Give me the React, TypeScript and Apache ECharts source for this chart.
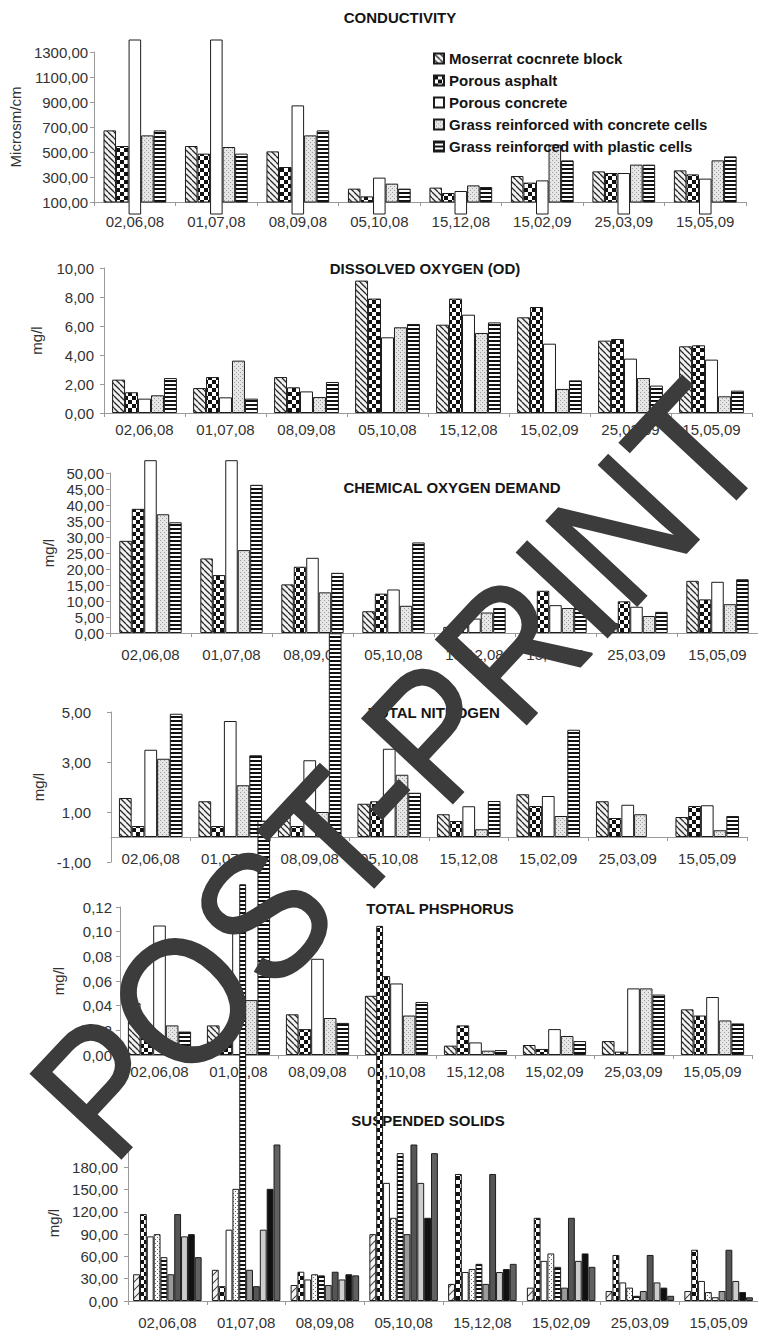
import React, { useEffect, useRef } from 'react';
import * as echarts from 'echarts';

const categories = ['02,06,08', '01,07,08', '08,09,08', '05,10,08', '15,12,08', '15,02,09', '25,03,09', '15,05,09'];
const legendNames = [
  'Moserrat cocnrete block',
  'Porous asphalt',
  'Porous concrete',
  'Grass reinforced with concrete cells',
  'Grass reinforced with plastic cells',
];
const panelTitles = ['CONDUCTIVITY', 'DISSOLVED OXYGEN (OD)', 'CHEMICAL OXYGEN DEMAND', 'TOTAL NITROGEN', 'TOTAL PHSPHORUS', 'SUSPENDED SOLIDS'];
const axisNames = ['Microsm/cm', 'mg/l', 'mg/l', 'mg/l', 'mg/l', 'mg/l'];
const watermarkText = 'POST-PRINT';

// Conductivity (Microsm/cm)
const condMoserrat = [673, 548, 505, 207, 215, 308, 345, 353];
const condAsphalt = [548, 487, 380, 145, 172, 255, 332, 321];
const condPorous = [1400, 1400, 873, 295, 188, 273, 332, 287];
const condGrassConcrete = [633, 540, 633, 247, 233, 559, 399, 433];
const condGrassPlastic = [673, 487, 673, 207, 220, 433, 399, 465];

// Dissolved oxygen (mg/l)
const doMoserrat = [2.3, 1.72, 2.48, 9.13, 6.09, 6.6, 4.99, 4.6];
const doAsphalt = [1.43, 2.48, 1.77, 7.89, 7.89, 7.31, 5.1, 4.67];
const doPorous = [0.99, 1.08, 1.49, 5.22, 6.78, 4.78, 3.75, 3.68];
const doGrassConcrete = [1.22, 3.61, 1.1, 5.91, 5.52, 1.66, 2.41, 1.15];
const doGrassPlastic = [2.41, 0.99, 2.14, 6.14, 6.25, 2.25, 1.89, 1.54];

// Chemical oxygen demand (mg/l)
const codMoserrat = [28.8, 23.3, 15.2, 6.8, 1.9, 4.0, 3.1, 16.3];
const codAsphalt = [38.8, 18.1, 20.7, 12.3, 4.0, 13.2, 9.9, 10.5];
const codPorous = [54, 54, 23.5, 13.6, 4.5, 8.7, 8.2, 16.0];
const codGrassConcrete = [37.1, 25.9, 12.7, 8.5, 6.4, 7.8, 5.3, 9.0];
const codGrassPlastic = [34.6, 46.3, 18.8, 28.3, 7.8, 8.7, 6.6, 16.8];

// Total nitrogen (mg/l)
const tnMoserrat = [1.56, 1.43, 0.87, 1.33, 0.91, 1.71, 1.43, 0.8];
const tnAsphalt = [0.44, 0.44, 0.44, 1.43, 0.64, 1.24, 0.76, 1.24];
const tnPorous = [3.49, 4.64, 3.07, 3.53, 1.23, 1.64, 1.29, 1.27];
const tnGrassConcrete = [3.13, 2.07, 1.0, 2.49, 0.31, 0.84, 0.91, 0.27];
const tnGrassPlastic = [4.93, 3.27, 8.15, 1.77, 1.44, 4.29, null, 0.84];

// Total phosphorus (mg/l)
const tpMoserrat = [0.042, 0.024, 0.033, 0.048, 0.0076, 0.0081, 0.0113, 0.037];
const tpAsphalt = [0.021, 0.014, 0.021, 0.064, 0.024, 0.0049, 0.0027, 0.032];
const tpPorous = [0.105, 0.099, 0.078, 0.058, 0.0102, 0.021, 0.054, 0.047];
const tpGrassConcrete = [0.024, 0.0445, 0.03, 0.032, 0.0035, 0.0154, 0.054, 0.028];
const tpGrassPlastic = [0.019, 0.19, 0.026, 0.043, 0.004, 0.0113, 0.049, 0.0256];

// Suspended solids (mg/l)
const ssMoserrat = [36, 42, 21.5, 90, 23, 18, 13.4, 13.4];
const ssAsphalt = [117, 20, 39.4, 505, 171, 112, 62, 69];
const ssPorous = [87, 96, 29, 159, 39, 54, 25, 27];
const ssGrassConcrete = [90, 151, 36, 112, 43, 64, 18, 12];
const ssGrassPlastic = [59, 561, 34.5, 199, 50, 46, 7, 5];

const FONT = '"Liberation Sans", Arial, Helvetica, sans-serif';
const fmt = (v: number) => v.toFixed(2).replace('.', ',');

function tile(w: number, h: number, draw: (ctx: CanvasRenderingContext2D) => void) {
  const c = document.createElement('canvas');
  c.width = w;
  c.height = h;
  const ctx = c.getContext('2d') as CanvasRenderingContext2D;
  draw(ctx);
  return { image: c.toDataURL(), repeat: 'repeat', imageWidth: w, imageHeight: h } as any;
}

export default function App() {
  const ref = useRef<HTMLDivElement>(null);
  useEffect(() => {
    document.body.style.margin = '0';
    const chart = echarts.init(ref.current as HTMLDivElement, null, { renderer: 'svg' });

    const hatch = tile(6, 6, (ctx) => {
      ctx.fillStyle = '#f3f3f3';
      ctx.fillRect(0, 0, 6, 6);
      ctx.strokeStyle = '#2a2a2a';
      ctx.lineWidth = 1.3;
      for (let k = -1; k <= 1; k++) {
        ctx.beginPath();
        ctx.moveTo(0, k * 6);
        ctx.lineTo(6, 6 + k * 6);
        ctx.stroke();
      }
    });
    const hatchSparse = tile(8, 8, (ctx) => {
      ctx.fillStyle = '#f5f5f5';
      ctx.fillRect(0, 0, 8, 8);
      ctx.strokeStyle = '#444';
      ctx.lineWidth = 1.1;
      for (let k = -1; k <= 1; k++) {
        ctx.beginPath();
        ctx.moveTo(0, 8 + k * 8);
        ctx.lineTo(8, k * 8);
        ctx.stroke();
      }
    });
    const checker = tile(8, 8, (ctx) => {
      ctx.fillStyle = '#fff';
      ctx.fillRect(0, 0, 8, 8);
      ctx.fillStyle = '#111';
      ctx.fillRect(0, 0, 4, 4);
      ctx.fillRect(4, 4, 4, 4);
    });
    const speckle = tile(4, 4, (ctx) => {
      ctx.fillStyle = '#e6e6e6';
      ctx.fillRect(0, 0, 4, 4);
      ctx.fillStyle = '#9c9c9c';
      ctx.fillRect(0, 0, 1, 1);
      ctx.fillRect(2, 2, 1, 1);
    });
    const dotted = tile(4, 4, (ctx) => {
      ctx.fillStyle = '#fafafa';
      ctx.fillRect(0, 0, 4, 4);
      ctx.fillStyle = '#666';
      ctx.fillRect(1, 1, 1, 1);
      ctx.fillRect(3, 3, 1, 1);
    });
    const stripes = tile(4, 4, (ctx) => {
      ctx.fillStyle = '#fff';
      ctx.fillRect(0, 0, 4, 4);
      ctx.fillStyle = '#111';
      ctx.fillRect(0, 0, 4, 2);
    });

    const basicFills = [hatch, checker, '#ffffff', speckle, stripes];
    const ssFills = [hatchSparse, checker, '#ffffff', dotted, stripes, '#9a9a9a', '#555555', '#cdcdcd', '#111111', '#616161'];

    const panels = [
      { top: 52, height: 150, left: 90, right: 12, min: 100, max: 1300, interval: 200, gap: '23%', nameGap: 64, yMargin: 6, xMargin: 12, xOffset: 0,
        data: [condMoserrat, condAsphalt, condPorous, condGrassConcrete, condGrassPlastic], clip: [true, true, false, true, true], tx: 400, ty: 17 },
      { top: 268, height: 145, left: 104, right: 6, min: 0, max: 10, interval: 2, gap: '20%', nameGap: 60, yMargin: 10, xMargin: 9, xOffset: 0,
        data: [doMoserrat, doAsphalt, doPorous, doGrassConcrete, doGrassPlastic], clip: [true, true, true, true, true], tx: 425, ty: 268 },
      { top: 473, height: 160, left: 110, right: -8, min: 0, max: 50, interval: 5, gap: '23%', nameGap: 54, yMargin: 6, xMargin: 14, xOffset: 0,
        data: [codMoserrat, codAsphalt, codPorous, codGrassConcrete, codGrassPlastic], clip: [true, true, false, true, true], tx: 452, ty: 487 },
      { top: 712, height: 150, left: 111, right: 11, min: -1, max: 5, interval: 2, gap: '20%', nameGap: 47, yMargin: 20, xMargin: 14, xOffset: -25,
        data: [tnMoserrat, tnAsphalt, tnPorous, tnGrassConcrete, tnGrassPlastic], clip: [true, true, true, true, false], tx: 434, ty: 712 },
      { top: 907, height: 148, left: 120, right: 6, min: 0, max: 0.12, interval: 0.02, gap: '20%', nameGap: 54, yMargin: 8, xMargin: 9, xOffset: 0,
        data: [tpMoserrat, tpAsphalt, tpPorous, tpGrassConcrete, tpGrassPlastic], clip: [true, true, true, true, false], tx: 440, ty: 908 },
      { top: 1145, height: 156, left: 128, right: -14, min: 0, max: 210, interval: 30, gap: '13%', nameGap: 61, yMargin: 10, xMargin: 14, xOffset: 0,
        data: [ssMoserrat, ssAsphalt, ssPorous, ssGrassConcrete, ssGrassPlastic, ssMoserrat, ssAsphalt, ssPorous, ssGrassConcrete, ssGrassPlastic],
        clip: [true, false, true, true, false, true, true, true, true, true], tx: 428, ty: 1120 },
    ];

    const axisColor = '#9a9a9a';
    const grid: any[] = [];
    const xAxis: any[] = [];
    const yAxis: any[] = [];
    const series: any[] = [];
    const graphic: any[] = [];

    panels.forEach((p, i) => {
      grid.push({ left: p.left, right: p.right, top: p.top, height: p.height, containLabel: false });
      xAxis.push({
        type: 'category', gridIndex: i, data: categories, offset: p.xOffset,
        axisLine: { show: true, onZero: false, lineStyle: { color: axisColor, width: 1 } },
        axisTick: { show: true, length: 4, lineStyle: { color: axisColor } },
        axisLabel: { fontFamily: FONT, fontSize: 15, color: '#333', margin: p.xMargin },
        splitLine: { show: false },
      });
      yAxis.push({
        type: 'value', gridIndex: i, min: p.min, max: p.max, interval: p.interval,
        axisLine: { show: true, lineStyle: { color: axisColor, width: 1 } },
        axisTick: { show: true, length: 4, lineStyle: { color: axisColor } },
        splitLine: { show: false },
        axisLabel: { formatter: fmt, fontFamily: FONT, fontSize: 15, color: '#333', margin: p.yMargin, showMaxLabel: i !== 5 },
        name: axisNames[i], nameLocation: 'middle', nameRotate: 90, nameGap: p.nameGap,
        nameTextStyle: { fontFamily: FONT, fontSize: 15, color: '#333' },
      });
      const fills = i === 5 ? ssFills : basicFills;
      p.data.forEach((arr, k) => {
        series.push({
          type: 'bar',
          name: k < 5 ? legendNames[k] : 'SS ' + (k + 1),
          xAxisIndex: i, yAxisIndex: i,
          data: arr,
          barGap: '0%', barCategoryGap: p.gap,
          clip: p.clip[k],
          itemStyle: { color: fills[k], borderColor: '#1c1c1c', borderWidth: 1 },
          emphasis: { disabled: true },
        });
      });
      graphic.push({
        type: 'text', x: p.tx, y: p.ty, z: 0, silent: true,
        style: { text: panelTitles[i], fontFamily: FONT, fontWeight: 'bold', fontSize: 15, fill: '#151515', textAlign: 'center', textVerticalAlign: 'middle' },
      });
    });

    graphic.push({
      type: 'text', x: 398, y: 770, rotation: (47 * Math.PI) / 180, scaleX: 0.9, scaleY: 1, z: 100, silent: true,
      style: {
        text: watermarkText, fontFamily: FONT, fontSize: 180,
        fill: '#3c3c3c', stroke: '#3c3c3c', lineWidth: 2, textAlign: 'center', textVerticalAlign: 'middle',
      },
    });

    chart.setOption({
      animation: false,
      backgroundColor: '#ffffff',
      legend: {
        data: legendNames, orient: 'vertical', left: 428, top: 46, itemWidth: 10, itemHeight: 10, itemGap: 7, icon: 'rect',
        selectedMode: false,
        textStyle: { fontFamily: FONT, fontWeight: 'bold', fontSize: 15, color: '#151515', lineHeight: 14 },
      },
      grid, xAxis, yAxis, series, graphic,
    });
    return () => chart.dispose();
  }, []);
  return <div ref={ref} style={{ width: 758, height: 1334 }} />;
}
